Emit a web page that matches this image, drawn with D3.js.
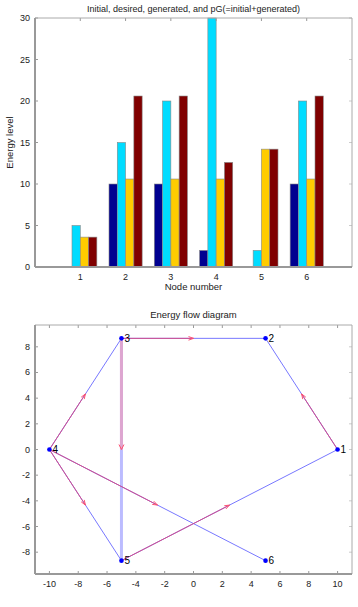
<!DOCTYPE html>
<html>
<head>
<meta charset="utf-8">
<script src="https://cdn.jsdelivr.net/npm/d3@7"></script>
<style>
  body { margin: 0; background: #fff; }
  svg text { font-family: "Liberation Sans", Arial, sans-serif; fill: #222; }
</style>
</head>
<body>
<div id="chart"></div>
<script>
// bar chart data
var nodes = [1, 2, 3, 4, 5, 6];
var initial = [0, 10, 10, 2, 0, 10];
var desired = [5, 15, 20, 30, 2, 20];
var generated = [3.6, 10.6, 10.6, 10.6, 14.2, 10.6];
var pG = [3.6, 20.6, 20.6, 12.6, 14.2, 20.6];
var seriesColors = ["#000090", "#00dcff", "#ffcc00", "#800000"];
var barTicks = [0, 5, 10, 15, 20, 25, 30];

// flow diagram data
var nodeX = [10, 5, -5, -10, -5, 5];
var nodeY = [0, 8.66, 8.66, 0, -8.66, -8.66];
var edges = [[1, 2], [2, 3], [3, 4], [4, 5], [3, 5], [4, 6], [5, 1]];
var edgeWidth = [1, 1, 1, 1, 3, 1, 1];
var flows = [[1, 2], [3, 2], [4, 3], [3, 5], [4, 5], [4, 6], [5, 1]];
var flowWidth = [1, 1, 1, 3, 1, 1, 1];
var flowXTicks = [-10, -8, -6, -4, -2, 0, 2, 4, 6, 8, 10];
var flowYTicks = [-8, -6, -4, -2, 0, 2, 4, 6, 8];

var svg = d3.select("#chart").append("svg")
    .attr("width", 358).attr("height", 607);

function drawBox(g, x, y, xt, yt, xfmt) {
    var x0 = x.range()[0], x1 = x.range()[1];
    var y0 = y.range()[0], y1 = y.range()[1];
    // ticks inside, on all four sides
    xt.forEach(function (t) {
        g.append("line").attr("x1", x(t)).attr("x2", x(t)).attr("y1", y0).attr("y2", y0 - 3)
            .attr("stroke", "#999");
        g.append("line").attr("x1", x(t)).attr("x2", x(t)).attr("y1", y1).attr("y2", y1 + 3)
            .attr("stroke", "#999");
        g.append("text").attr("x", x(t)).attr("y", y0 + 13).attr("text-anchor", "middle")
            .style("font-size", "9px").text(xfmt ? xfmt(t) : t);
    });
    yt.forEach(function (t) {
        g.append("line").attr("x1", x0).attr("x2", x0 + 3).attr("y1", y(t)).attr("y2", y(t))
            .attr("stroke", "#999");
        g.append("line").attr("x1", x1).attr("x2", x1 - 3).attr("y1", y(t)).attr("y2", y(t))
            .attr("stroke", "#ccc");
        g.append("text").attr("x", x0 - 5).attr("y", y(t) + 3).attr("text-anchor", "end")
            .style("font-size", "9px").text(t);
    });
    g.append("line").attr("x1", x0).attr("x2", x1).attr("y1", y1).attr("y2", y1)
        .attr("stroke", "#aaa");
    g.append("line").attr("x1", x1).attr("x2", x1).attr("y1", y1).attr("y2", y0)
        .attr("stroke", "#aaa");
    g.append("line").attr("x1", x0).attr("x2", x1).attr("y1", y0).attr("y2", y0)
        .attr("stroke", "#999").attr("stroke-width", 2);
    g.append("line").attr("x1", x0).attr("x2", x0).attr("y1", y1).attr("y2", y0)
        .attr("stroke", "#999").attr("stroke-width", 2);
}

// ---- bar chart ----
var x = d3.scaleLinear().domain([0, 7]).range([35, 352]);
var y = d3.scaleLinear().domain([0, 30]).range([267, 18]);
var bw = 0.183;
var g1 = svg.append("g");
[initial, desired, generated, pG].forEach(function (s, k) {
    g1.append("g").selectAll("rect")
        .data(s)
        .join("rect")
        .attr("x", function (d, i) { return x(nodes[i] + (k - 2) * bw); })
        .attr("width", x(bw) - x(0))
        .attr("y", function (d) { return y(d); })
        .attr("height", function (d) { return y(0) - y(d); })
        .attr("fill", seriesColors[k])
        .attr("stroke", "#888")
        .attr("stroke-width", 0.6);
});
drawBox(g1, x, y, nodes, barTicks);
g1.append("text").attr("x", 193.5).attr("y", 12).attr("text-anchor", "middle")
    .style("font-size", "9px").text("Initial, desired, generated, and pG(=initial+generated)");
g1.append("text").attr("x", 193.5).attr("y", 290).attr("text-anchor", "middle")
    .style("font-size", "9.5px").text("Node number");
g1.append("text").attr("transform", "translate(13,142.5) rotate(-90)").attr("text-anchor", "middle")
    .style("font-size", "9.5px").text("Energy level");

// ---- flow diagram ----
var fx = d3.scaleLinear().domain([-11, 11]).range([35, 352]);
var fy = d3.scaleLinear().domain([-9.7, 9.7]).range([574, 325]);
var g2 = svg.append("g");

g2.append("g").selectAll("line")
    .data(edges)
    .join("line")
    .attr("x1", function (d) { return fx(nodeX[d[0] - 1]); })
    .attr("y1", function (d) { return fy(nodeY[d[0] - 1]); })
    .attr("x2", function (d) { return fx(nodeX[d[1] - 1]); })
    .attr("y2", function (d) { return fy(nodeY[d[1] - 1]); })
    .attr("stroke", function (d, i) { return edgeWidth[i] > 1 ? "#bcbcff" : "#7878ff"; })
    .attr("stroke-width", function (d, i) { return edgeWidth[i]; });

// flows: from node halfway along the edge, arrow at the midpoint
var fg = g2.append("g");
flows.forEach(function (f, i) {
    var ax = fx(nodeX[f[0] - 1]), ay = fy(nodeY[f[0] - 1]);
    var bx = (ax + fx(nodeX[f[1] - 1])) / 2, by = (ay + fy(nodeY[f[1] - 1])) / 2;
    var thick = flowWidth[i] > 1;
    fg.append("line").attr("x1", ax).attr("y1", ay).attr("x2", bx).attr("y2", by)
        .attr("stroke", thick ? "#dea6d0" : "#d4508c").attr("stroke-width", flowWidth[i]);
    var ang = Math.atan2(by - ay, bx - ax);
    var L = 5, W = thick ? 2.5 : 1.8;
    var p1 = [bx - L * Math.cos(ang) + W * Math.sin(ang), by - L * Math.sin(ang) - W * Math.cos(ang)];
    var p2 = [bx - L * Math.cos(ang) - W * Math.sin(ang), by - L * Math.sin(ang) + W * Math.cos(ang)];
    fg.append("path")
        .attr("d", "M" + p1 + "L" + bx + "," + by + "L" + p2)
        .attr("fill", "none").attr("stroke", "#ff5070").attr("stroke-width", 1);
});

g2.append("g").selectAll("circle")
    .data(nodeX)
    .join("circle")
    .attr("cx", function (d) { return fx(d); })
    .attr("cy", function (d, i) { return fy(nodeY[i]); })
    .attr("r", 2.3)
    .attr("fill", "#0000ff");
g2.append("g").selectAll("text")
    .data(nodeX)
    .join("text")
    .attr("x", function (d) { return fx(d) + 3; })
    .attr("y", function (d, i) { return fy(nodeY[i]) + 3.5; })
    .style("font-size", "10px")
    .style("fill", "#000")
    .text(function (d, i) { return i + 1; });

drawBox(g2, fx, fy, flowXTicks, flowYTicks);
g2.append("text").attr("x", 193.5).attr("y", 318).attr("text-anchor", "middle")
    .style("font-size", "9.5px").text("Energy flow diagram");
</script>
</body>
</html>
